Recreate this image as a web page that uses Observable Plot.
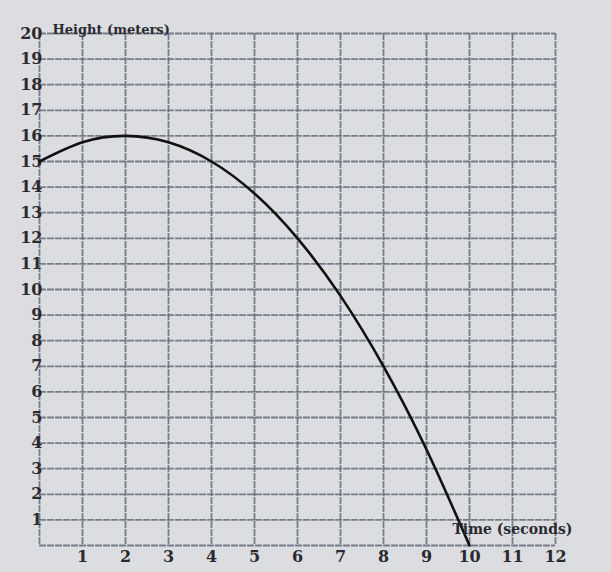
<!DOCTYPE html>
<html>
<head>
<meta charset="utf-8">
<script src="https://cdn.jsdelivr.net/npm/d3@7"></script>
<script src="https://cdn.jsdelivr.net/npm/@observablehq/plot@0.6"></script>
<style>
  html, body { margin: 0; padding: 0; background: #dcdde0; }
  #chart svg { display: block; }
</style>
</head>
<body>
<div id="chart"></div>
<script>
const timeSeconds = [0, 1, 2, 3, 4, 5, 6, 7, 8, 9, 10];
const heightMeters = [15, 15.75, 16, 15.75, 15, 13.75, 12, 9.75, 7, 3.75, 0];
const xTicks = [1, 2, 3, 4, 5, 6, 7, 8, 9, 10, 11, 12];
const yTicks = [1, 2, 3, 4, 5, 6, 7, 8, 9, 10, 11, 12, 13, 14, 15, 16, 17, 18, 19, 20];
const xGrid = [0, 1, 2, 3, 4, 5, 6, 7, 8, 9, 10, 11, 12];
const yGrid = [0, 1, 2, 3, 4, 5, 6, 7, 8, 9, 10, 11, 12, 13, 14, 15, 16, 17, 18, 19, 20];
const xLabel = "Time (seconds)";
const yLabel = "Height (meters)";

const points = timeSeconds.map((t, i) => ({t, h: heightMeters[i]}));
const gridColor = "#5f6576";
const font = "'DejaVu Serif', 'Liberation Serif', serif";

const chart = Plot.plot({
  width: 611,
  height: 572,
  marginLeft: 39,
  marginRight: 56,
  marginTop: 33,
  marginBottom: 27,
  style: {background: "#dcdde0", fontFamily: font, fontWeight: "bold", color: "#2a2a30"},
  x: {domain: [0, 12], label: null},
  y: {domain: [0, 20], label: null},
  marks: [
    Plot.ruleX(xGrid, {stroke: gridColor, strokeWidth: 1.8, strokeDasharray: "7,1", strokeOpacity: 0.8}),
    Plot.ruleY(yGrid, {stroke: gridColor, strokeWidth: 1.8, strokeDasharray: "7,1", strokeOpacity: 0.8}),
    Plot.axisX(xTicks, {tickSize: 0, tickPadding: 5, fontSize: 16, fontWeight: "bold", fill: "#2a2a30"}),
    Plot.axisY(yTicks, {tickSize: 0, tickPadding: -3, fontSize: 16, fontWeight: "bold", fill: "#2a2a30"}),
    Plot.line(points, {x: "t", y: "h", curve: "natural", stroke: "#111", strokeWidth: 2.6}),
    Plot.text([yLabel], {frameAnchor: "top-left", dx: 13, dy: -9, text: d => d, fontSize: 13, fontWeight: "bold", fill: "#2a2a30", textAnchor: "start"}),
    Plot.text([xLabel], {frameAnchor: "bottom-right", dx: 17, dy: -12, text: d => d, fontSize: 14, fontWeight: "bold", fill: "#2a2a30", textAnchor: "end"})
  ]
});
document.getElementById("chart").appendChild(chart);
</script>
</body>
</html>
